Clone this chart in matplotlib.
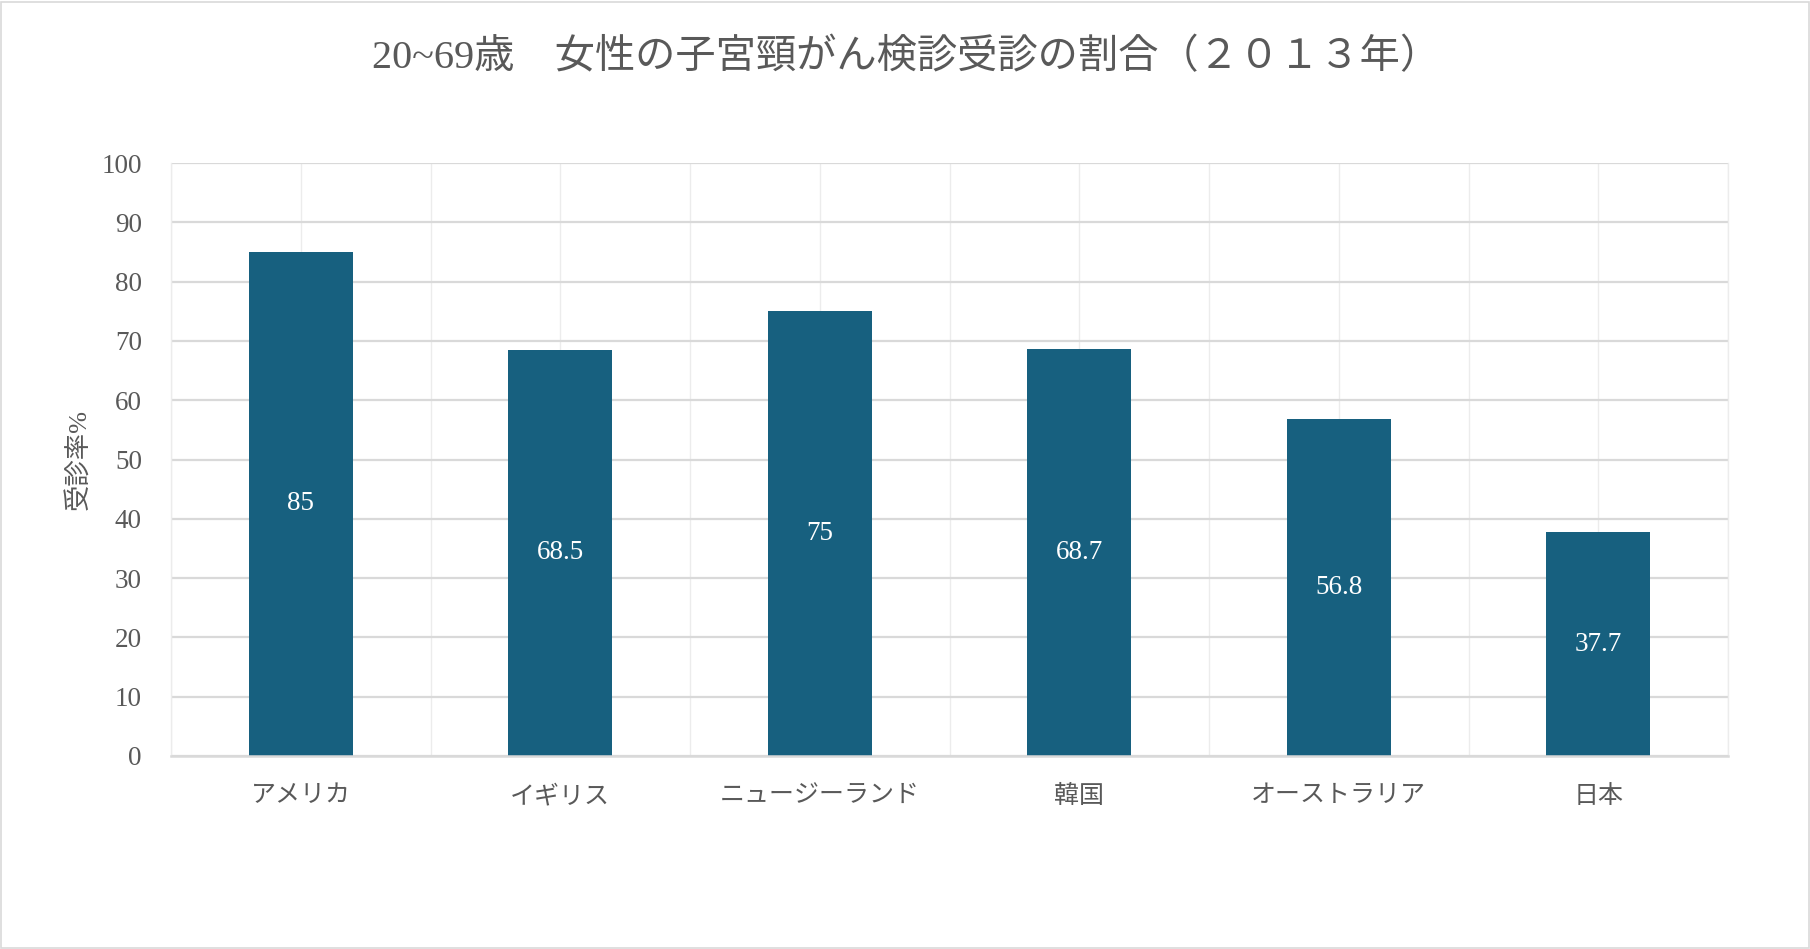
import matplotlib
matplotlib.use("Agg")
import matplotlib.pyplot as plt
import numpy as np

categories = ["アメリカ", "イギリス", "ニュージーランド", "韓国", "オーストラリア", "日本"]
values = [85, 68.5, 75, 68.7, 56.8, 37.7]
value_labels = ["85", "68.5", "75", "68.7", "56.8", "37.7"]
yticks = [0, 10, 20, 30, 40, 50, 60, 70, 80, 90, 100]
title = "20~69歳　女性の子宮頸がん検診受診の割合（２０１３年）"
ylabel = "受診率%"

FAM = ["Liberation Serif", "Noto Sans CJK JP", "DejaVu Sans"]
plt.rcParams["font.family"] = FAM
TXT = "#595959"
BAR = "#17607f"

fig = plt.figure(figsize=(18.10, 9.49), dpi=100)
ax = fig.add_axes([0.0945, 0.2034, 0.9547 - 0.0945, 0.8282 - 0.2034])

x = np.arange(len(categories))
bars = ax.bar(x, values, width=0.4, color=BAR, zorder=3)
for xi, v, lab in zip(x, values, value_labels):
    ax.text(xi, v / 2, lab, ha="center", va="center", color="white",
            fontsize=19.5, zorder=4)

ax.set_xlim(-0.5, len(categories) - 0.5)
ax.set_ylim(0, 100)
ax.set_yticks(yticks)
ax.set_yticklabels([str(t) for t in yticks], fontsize=19.5, color=TXT)
ax.set_xticks(x)
ax.set_xticklabels(categories, fontsize=18, color=TXT)
ax.set_xticks(np.arange(-0.5, len(categories), 1.0), minor=True)

ax.tick_params(axis="both", which="both", length=0)
ax.tick_params(axis="y", pad=21)
ax.tick_params(axis="x", pad=21)

ax.yaxis.grid(True, color="#d9d9d9", linewidth=1.6, zorder=1)
ax.xaxis.grid(True, which="both", color="#ececec", linewidth=1.0, zorder=1)
ax.spines["top"].set_visible(False)
ax.spines["left"].set_color("#ececec")
ax.spines["right"].set_color("#ececec")
ax.spines["left"].set_linewidth(1.0)
ax.spines["right"].set_linewidth(1.0)
ax.spines["bottom"].set_color("#d9d9d9")
ax.spines["bottom"].set_linewidth(1.8)
ax.spines["bottom"].set_zorder(5)

ax.set_ylabel(ylabel, fontsize=19, color=TXT)
ax.yaxis.set_label_coords(-0.051, 0.5)

fig.text(0.5008, 0.939, title, ha="center", va="center", fontsize=29, color=TXT)

# figure border
fig.patches.append(plt.Rectangle((0.0008, 0.001), 0.9984, 0.997, transform=fig.transFigure,
                                 fill=False, edgecolor="#d9d9d9", linewidth=1.2))

fig.savefig("out.png", dpi=100, facecolor="white")
